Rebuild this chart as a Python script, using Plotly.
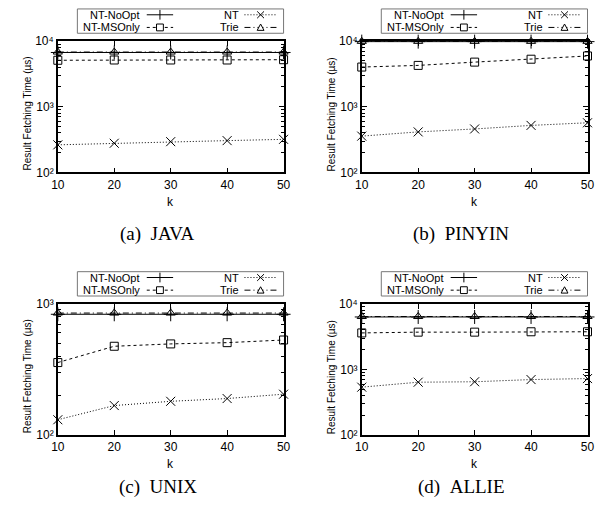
import plotly.graph_objects as go

W, H = 616, 520

# ---------------- data ----------------
k_values = [10, 20, 30, 40, 50]
series_names = ["NT-NoOpt", "NT-MSOnly", "NT", "Trie"]

java_noopt = [6700, 6700, 6700, 6700, 6700]
java_msonly = [5100, 5150, 5150, 5150, 5200]
java_nt = [263, 278, 294, 305, 319]
java_trie = [6800, 6800, 6800, 6800, 6800]

pinyin_noopt = [9800, 9800, 9800, 9800, 9800]
pinyin_msonly = [4020, 4260, 4780, 5290, 5930]
pinyin_nt = [357, 414, 459, 520, 570]
pinyin_trie = [9900, 9900, 9900, 9900, 9900]

unix_noopt = [832, 832, 832, 832, 832]
unix_msonly = [357, 475, 495, 506, 530]
unix_nt = [131, 168, 181, 190, 205]
unix_trie = [850, 850, 850, 850, 850]

allie_noopt = [6300, 6300, 6300, 6300, 6300]
allie_msonly = [3600, 3700, 3700, 3750, 3750]
allie_nt = [538, 640, 650, 702, 727]
allie_trie = [6400, 6400, 6400, 6400, 6400]

captions = ["(a)\u00a0\u00a0JAVA", "(b)\u00a0\u00a0PINYIN", "(c)\u00a0\u00a0UNIX", "(d)\u00a0\u00a0ALLIE"]
y_title = "Result Fetching Time (\u00b5s)"
x_title = "k"

ytick_vals_a = [100, 1000, 10000]
ytick_text_a = ["10\u00b2", "10\u00b3", "10\u2074"]
ytick_vals_b = [100, 1000]
ytick_text_b = ["10\u00b2", "10\u00b3"]
minor_vals = [200, 300, 400, 500, 600, 700, 800, 900,
              2000, 3000, 4000, 5000, 6000, 7000, 8000, 9000]

panels = [
    dict(noopt=java_noopt, msonly=java_msonly, nt=java_nt, trie=java_trie,
         yrange=[2, 4], tv=ytick_vals_a, tt=ytick_text_a),
    dict(noopt=pinyin_noopt, msonly=pinyin_msonly, nt=pinyin_nt, trie=pinyin_trie,
         yrange=[2, 4], tv=ytick_vals_a, tt=ytick_text_a),
    dict(noopt=unix_noopt, msonly=unix_msonly, nt=unix_nt, trie=unix_trie,
         yrange=[2, 3], tv=ytick_vals_b, tt=ytick_text_b),
    dict(noopt=allie_noopt, msonly=allie_msonly, nt=allie_nt, trie=allie_trie,
         yrange=[2, 4], tv=ytick_vals_a, tt=ytick_text_a),
]

# ---------------- layout geometry (pixels) ----------------
offsets = [(0, 0), (311, 0), (0, 270), (311, 270)]
caption_y = [233, 233, 493, 493]
PX0, PX1, PY0, PY1 = 52, 283, 35, 170   # plot box of panel (a)

styles = {
    "NT-NoOpt": dict(dash="solid", symbol="cross-thin", size=10),
    "NT-MSOnly": dict(dash="3px,3px", symbol="square-open", size=8),
    "NT": dict(dash="1px,2px", symbol="x-thin", size=9),
    "Trie": dict(dash="6px,3px,1px,3px", symbol="triangle-up-open", size=8),
}

def fx(x):
    return x / W

def fy(y):
    return 1 - y / H

fig = go.Figure()
shapes = []
annotations = []
SANS = "Liberation Sans, Arial, sans-serif"

for i, (p, (ox, oy)) in enumerate(zip(panels, offsets)):
    n = "" if i == 0 else str(i + 1)
    xa, ya = "x" + n, "y" + n
    data = {"NT-MSOnly": p["msonly"], "NT": p["nt"], "NT-NoOpt": p["noopt"], "Trie": p["trie"]}
    for name in ["NT-MSOnly", "NT", "NT-NoOpt", "Trie"]:
        st = styles[name]
        fig.add_trace(go.Scatter(
            x=k_values, y=data[name], name=name, mode="lines+markers",
            xaxis=xa, yaxis=ya, showlegend=False, cliponaxis=False,
            line=dict(color="black", width=1, dash=st["dash"]),
            marker=dict(symbol=st["symbol"], size=st["size"], color="black",
                        line=dict(color="black", width=1)),
        ))
    fig.layout["xaxis" + n] = dict(
        domain=[fx(PX0 + ox), fx(PX1 + ox)], anchor=ya, range=[10, 50],
        tickvals=k_values, ticks="inside", ticklen=5, tickcolor="black",
        mirror="allticks", showline=True, linecolor="black", linewidth=1.5,
        showgrid=False, zeroline=False, tickfont=dict(family=SANS, size=12, color="black"),
    )
    fig.layout["yaxis" + n] = dict(
        domain=[fy(PY1 + oy), fy(PY0 + oy)], anchor=xa, type="log", range=p["yrange"],
        tickvals=p["tv"], ticktext=p["tt"], ticks="inside", ticklen=5, tickcolor="black",
        minor=dict(tickvals=minor_vals, ticks="inside", ticklen=3, tickcolor="black"),
        mirror="allticks", showline=True, linecolor="black", linewidth=1.5,
        showgrid=False, zeroline=False, tickfont=dict(family=SANS, size=12, color="black"),
    )
    # axis titles
    annotations.append(dict(text=y_title, x=fx(21 + ox), y=fy(110 + oy), xref="paper", yref="paper",
                            showarrow=False, textangle=-90, xanchor="center", yanchor="middle",
                            font=dict(family=SANS, size=10, color="black")))
    annotations.append(dict(text=x_title, x=fx(167 + ox), y=fy(200 + oy), xref="paper", yref="paper",
                            showarrow=False, xanchor="center", yanchor="middle",
                            font=dict(family=SANS, size=12, color="black")))
    annotations.append(dict(text=captions[i], x=fx(154 + ox), y=fy(caption_y[i]), xref="paper", yref="paper",
                            showarrow=False, xanchor="center", yanchor="middle",
                            font=dict(family="Liberation Serif, Times New Roman, serif", size=19, color="black")))

    # legend box (gnuplot style: text then sample)
    shapes.append(dict(type="rect", xref="paper", yref="paper",
                       x0=fx(72 + ox), x1=fx(283 + ox), y0=fy(27 + oy), y1=fy(2 + oy),
                       line=dict(color="#777", width=1), fillcolor="white", layer="above"))
    entries = [("NT-NoOpt", 137, 143, 170, 8), ("NT", 238, 243, 276, 8),
               ("NT-MSOnly", 137, 143, 170, 21), ("Trie", 238, 243, 276, 21)]
    for name, tx, lx0, lx1, ly in entries:
        st = styles[name]
        annotations.append(dict(text=name, x=fx(tx + ox), y=fy(ly + oy), xref="paper", yref="paper",
                                showarrow=False, xanchor="right", yanchor="middle", borderpad=0,
                                font=dict(family=SANS, size=11, color="black")))
        shapes.append(dict(type="line", xref="paper", yref="paper",
                           x0=fx(lx0 + ox), x1=fx(lx1 + ox), y0=fy(ly + oy), y1=fy(ly + oy),
                           line=dict(color="black", width=1, dash=st["dash"]), layer="above"))
        cx, cy = (lx0 + lx1) / 2 + ox, ly + oy
        if name == "NT-NoOpt":
            r = 5
            shapes.append(dict(type="line", xref="paper", yref="paper", x0=fx(cx), x1=fx(cx),
                               y0=fy(cy - r), y1=fy(cy + r), line=dict(color="black", width=1), layer="above"))
        elif name == "NT":
            r = 3.5
            for s in (1, -1):
                shapes.append(dict(type="line", xref="paper", yref="paper", x0=fx(cx - r), x1=fx(cx + r),
                                   y0=fy(cy - s * r), y1=fy(cy + s * r), line=dict(color="black", width=1),
                                   layer="above"))
        elif name == "NT-MSOnly":
            r = 3.5
            shapes.append(dict(type="rect", xref="paper", yref="paper", x0=fx(cx - r), x1=fx(cx + r),
                               y0=fy(cy + r), y1=fy(cy - r), line=dict(color="black", width=1),
                               fillcolor="white", layer="above"))
        else:
            r = 3.5
            path = "M {} {} L {} {} L {} {} Z".format(fx(cx - r), fy(cy + r - 0.5), fx(cx + r),
                                                        fy(cy + r - 0.5), fx(cx), fy(cy - r))
            shapes.append(dict(type="path", xref="paper", yref="paper", path=path,
                               line=dict(color="black", width=1), fillcolor="white", layer="above"))

fig.update_layout(
    width=W, height=H, autosize=False,
    margin=dict(l=0, r=0, t=0, b=0),
    paper_bgcolor="white", plot_bgcolor="white",
    shapes=shapes, annotations=annotations, showlegend=False,
)

fig.write_html("out.html", config={"displayModeBar": False},
               post_script="document.body.style.margin='0';document.body.style.padding='0';")
